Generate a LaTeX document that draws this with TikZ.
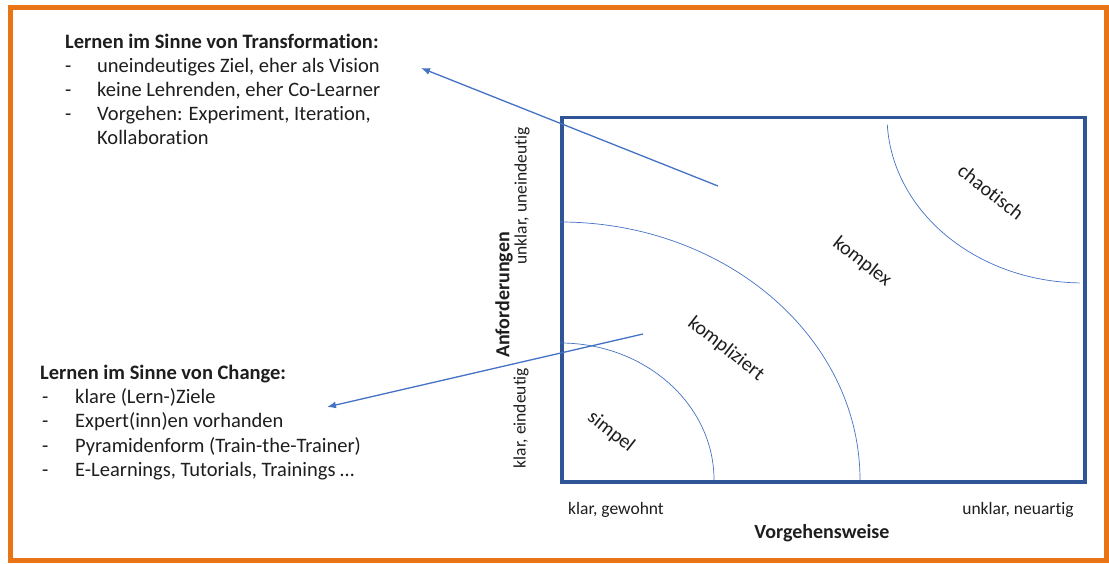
\documentclass[tikz,border=0pt]{standalone}
\usepackage{fontspec}
\setmainfont{Carlito}[Ligatures=CommonOff]
\usetikzlibrary{arrows.meta}

\definecolor{frameorange}{HTML}{E97415}
\definecolor{boxblue}{HTML}{2F5597}
\definecolor{lineblue}{HTML}{4472C4}
\definecolor{txt}{HTML}{1E1E1E}

\begin{document}
\begin{tikzpicture}[x=1pt,y=-1pt,
  every node/.style={inner sep=0pt, text=txt},
  body/.style={anchor=base west, font=\fontsize{20.5}{24}\selectfont},
  head/.style={anchor=base west, font=\fontsize{20.5}{24}\selectfont\bfseries},
  axislabel/.style={font=\fontsize{17.5}{20}\selectfont},
  axistitle/.style={font=\fontsize{20}{24}\selectfont\bfseries},
  region/.style={font=\fontsize{20}{22}\selectfont, rotate=-38},
  zoneline/.style={lineblue, line width=0.7pt},
  pointer/.style={lineblue, line width=1.3pt, -{Latex[length=9pt,width=7pt]}},
]
\useasboundingbox (0,0) rectangle (1109,564);
\fill[white] (0,0) rectangle (1109,564);

% outer frame
\draw[frameorange, line width=5pt] (10.5,7.5) rectangle (1106,560.5);

% the quadrant box
\node (quad) [draw=boxblue, line width=3.5pt, minimum width=523pt,
  minimum height=364pt, anchor=north west] at (560,116) {};

% zone boundaries
\draw[zoneline] (560,343) arc[start angle=-90, end angle=0, x radius=154, y radius=137];
\draw[zoneline] (560,222) arc[start angle=-90, end angle=0, x radius=300, y radius=258];
\draw[zoneline] (887.3,124.7) arc[start angle=177, end angle=91, x radius=196, y radius=167];

% zone names
\node[region] (zSimple) at (611,432) {simpel};
\node[region] (zComplicated) at (726,349) {kompliziert};
\node[region] (zComplex) at (862,262) {komplex};
\node[region] (zChaotic) at (991,192) {chaotisch};

% axes
\node[axistitle, rotate=90] (yTitle) at (504,295) {Anforderungen};
\node[axislabel, rotate=90] (yHigh) at (522,196) {unklar, uneindeutig};
\node[axislabel, rotate=90] (yLow) at (521,418) {klar, eindeutig};
\node[axislabel] (xLow) at (616,510) {klar, gewohnt};
\node[axislabel] (xHigh) at (1018,510) {unklar, neuartig};
\node[axistitle] (xTitle) at (822,533) {Vorgehensweise};

% learning as transformation
\node[head] (tTitle) at (65,49) {Lernen im Sinne von Transformation:};
\node[body] (tDashA) at (65,73) {-};
\node[body] (tItemA) at (97,73) {uneindeutiges Ziel, eher als Vision};
\node[body] (tDashB) at (65,97) {-};
\node[body] (tItemB) at (97,97) {keine Lehrenden, eher Co-Learner};
\node[body] (tDashC) at (65,121) {-};
\node[body] (tItemC) at (97,121) {Vorgehen: Experiment, Iteration,};
\node[body] (tItemD) at (97,145) {Kollaboration};

% learning as change
\node[head] (cTitle) at (40,379) {Lernen im Sinne von Change:};
\node[body] (cDashA) at (42,403) {-};
\node[body] (cItemA) at (75,403) {klare (Lern-)Ziele};
\node[body] (cDashB) at (42,427.5) {-};
\node[body] (cItemB) at (75,427.5) {Expert(inn)en vorhanden};
\node[body] (cDashC) at (42,452) {-};
\node[body] (cItemC) at (75,452) {Pyramidenform (Train-the-Trainer)};
\node[body] (cDashD) at (42,476.5) {-};
\node[body] (cItemD) at (75,476.5) {E-Learnings, Tutorials, Trainings …};

% pointers from the zones to the descriptions
\coordinate (transFrom) at (718,186);
\coordinate (transTo) at (421,68);
\coordinate (changeFrom) at (643,334);
\coordinate (changeTo) at (327,407);
\draw[pointer] (transFrom) -- (transTo);
\draw[pointer] (changeFrom) -- (changeTo);
\end{tikzpicture}
\end{document}
